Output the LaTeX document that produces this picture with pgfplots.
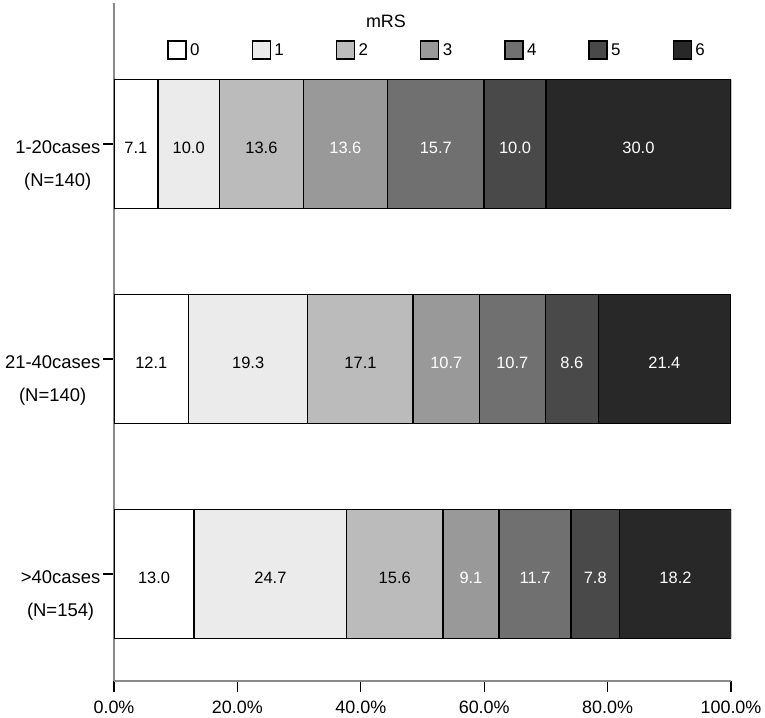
\documentclass[border=0pt]{standalone}
\usepackage{pgfplots}
\pgfplotsset{compat=1.18}
\usepackage{fontspec}
\setmainfont{Liberation Sans}
\definecolor{c0}{HTML}{FFFFFF}
\definecolor{c1}{HTML}{EBEBEB}
\definecolor{c2}{HTML}{BBBBBB}
\definecolor{c3}{HTML}{999999}
\definecolor{c4}{HTML}{707070}
\definecolor{c5}{HTML}{494949}
\definecolor{c6}{HTML}{282828}
\definecolor{axgray}{HTML}{8A8A8A}
\pgfplotsset{
 mybar/.style={fill=#1, draw=black, line width=1.5bp,
   legend image code/.code={\draw[##1, line width=1.3bp] (0bp,-9bp) rectangle (18bp,9bp);}},
 common/.style={at={(114bp,37bp)}, anchor=south west, scale only axis,
   width=617bp, height=678bp, xmin=0, xmax=100, ymin=-0.498, ymax=2.656},
}
\begin{document}
\begin{tikzpicture}
\useasboundingbox (0,0) rectangle (765bp,718bp);
\begin{axis}[common,
  xbar stacked, bar width=0.6,
  axis x line*=bottom, axis y line*=left,
  axis line style={draw=axgray, line width=1.5bp},
  tick style={draw=black, line width=1.3bp},
  tick align=outside, major tick length=11bp,
  xtick={0,20,40,60,80,100},
  xticklabels={0.0\%,20.0\%,40.0\%,60.0\%,80.0\%,100.0\%},
  xticklabel style={font=\fontsize{18}{20}\selectfont, yshift=-5bp},
  ytick={0,1,2},
  yticklabels={{>40cases\\(N=154)},{21-40cases\\(N=140)},{1-20cases\\(N=140)}},
  yticklabel style={align=center, anchor=north east, inner sep=0pt,
     font=\fontsize{18.5}{33}\selectfont, yshift=3.6bp, xshift=-2.5bp},
  legend columns=7,
  legend style={draw=none, fill=none, at={(0.0814,0.9307)}, anchor=west,
     font=\fontsize{17}{19}\selectfont,
     /tikz/every odd column/.append style={column sep=1.5bp},
     /tikz/every even column/.append style={column sep=50bp}},
  ]
\addplot[mybar=c0] coordinates {(13.0,0) (12.1,1) (7.1,2)};
\addplot[mybar=c1] coordinates {(24.7,0) (19.3,1) (10.0,2)};
\addplot[mybar=c2] coordinates {(15.6,0) (17.1,1) (13.6,2)};
\addplot[mybar=c3] coordinates {(9.1,0) (10.7,1) (13.6,2)};
\addplot[mybar=c4] coordinates {(11.7,0) (10.7,1) (15.7,2)};
\addplot[mybar=c5] coordinates {(7.8,0) (8.6,1) (10.0,2)};
\addplot[mybar=c6] coordinates {(18.2,0) (21.4,1) (30.0,2)};
\legend{0,1,2,3,4,5,6}
\node[font=\fontsize{18}{20}\selectfont] at (rel axis cs:0.4408,0.9724) {mRS};
\end{axis}
\begin{axis}[common, hide axis,
  every node near coord/.append style={anchor=center, yshift=-3.5bp,
     font=\fontsize{16.5}{18}\selectfont}]
\addplot[draw=none, nodes near coords, point meta=explicit symbolic,
  every node near coord/.append style={text=black}] coordinates {
 (3.55,2)[7.1] (12.1,2)[10.0] (23.9,2)[13.6]
 (6.05,1)[12.1] (21.75,1)[19.3] (39.95,1)[17.1]
 (6.5,0)[13.0] (25.35,0)[24.7] (45.5,0)[15.6]};
\addplot[draw=none, nodes near coords, point meta=explicit symbolic,
  every node near coord/.append style={text=white}] coordinates {
 (37.5,2)[13.6] (52.15,2)[15.7] (65.0,2)[10.0] (85.0,2)[30.0]
 (53.85,1)[10.7] (64.55,1)[10.7] (74.2,1)[8.6] (89.2,1)[21.4]
 (57.85,0)[9.1] (68.25,0)[11.7] (78.0,0)[7.8] (91.0,0)[18.2]};
\end{axis}
\end{tikzpicture}
\end{document}
